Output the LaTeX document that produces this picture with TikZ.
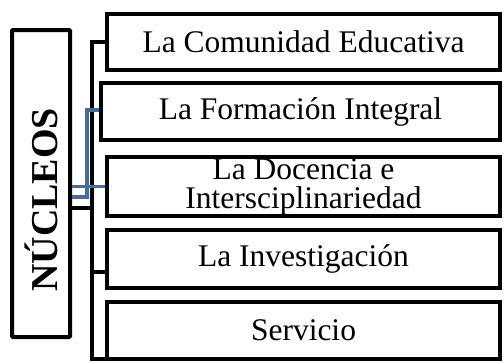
\documentclass[tikz,border=0pt]{standalone}
\usepackage{fontspec}
\setmainfont{Liberation Serif}
\usetikzlibrary{positioning}
\definecolor{linkblue}{RGB}{68,108,160}

\begin{document}
\begin{tikzpicture}[x=1pt,y=-1pt,
                  nucleo/.style={rectangle,draw=black,line width=4pt,fill=white,inner sep=0pt,
                    minimum width=393pt,minimum height=56pt,align=center,
                    font=\fontsize{31.5}{29}\selectfont},
                  core/.style={rectangle,draw=black,line width=4pt,inner sep=0pt,rounded corners=1pt,
                    minimum width=58pt,minimum height=307pt},
                  tie/.style={draw=black,line width=3.5pt},
                  bluetie/.style={draw=linkblue,line width=3.5pt}
                  ]
                  \useasboundingbox (0,0) rectangle (504,362);
                  \node[core] (nucleos) at (41,183.5) {};
                  \node[rotate=90,inner sep=0pt,font=\fontsize{38}{38}\selectfont\bfseries] (titulo) at (41,200) {NÚCLEOS};
                  \node[nucleo] (comunidad) at (303.5,41.5) {La Comunidad Educativa};
                  \node[nucleo,minimum width=399pt,minimum height=57pt] (formacion) at (300.5,111.5) {La Formación Integral};
                  \node[nucleo,minimum height=59pt] (docencia) at (303.5,186.5) {La Docencia e\\Intersciplinariedad};
                  \node[nucleo,minimum height=58pt] (investigacion) at (303.5,259) {La Investigación};
                  \node[nucleo,minimum height=57pt] (servicio) at (303.5,330.5) {Servicio};
                  % black bracket
                  \coordinate (spinetop) at (92,42);
                  \coordinate (spinemid) at (92,208);
                  \coordinate (spinetick) at (92,272);
                  \coordinate (spinebot) at (92,359);
                  \draw[tie] (comunidad.west |- spinetop) -- (spinetop) -- (spinebot) -- (servicio.west |- spinebot);
                  \draw[tie] (nucleos.east |- spinemid) -- (spinemid);
                  \draw[tie] (spinetick) -- (investigacion.west |- spinetick);
                  % blue links
                  \coordinate (blueknee) at (87,197);
                  \coordinate (bluetop) at (87,110);
                  \draw[bluetie] (nucleos.east |- docencia.west) -- (docencia.west);
                  \draw[bluetie] (nucleos.east |- blueknee) -- (blueknee) -- (bluetop) -- (formacion.west |- bluetop);
                \end{tikzpicture}
\end{document}
